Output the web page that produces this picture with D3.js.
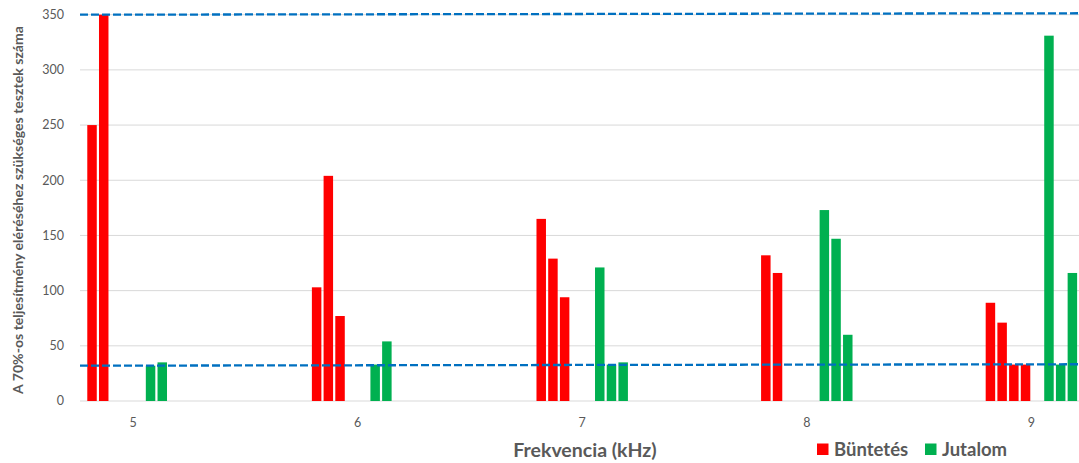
<!DOCTYPE html>
<html>
<head>
<meta charset="utf-8">
<script src="https://d3js.org/d3.v7.min.js"></script>
<style>
  body { margin: 0; background: #fff; }
  text { font-family: Lato, "Open Sans", sans-serif; fill: #595959; }
</style>
</head>
<body>
<svg width="1079" height="463"></svg>
<script>
  // categories (kHz)
  const categories = ['5', '6', '7', '8', '9'];

  // four red series (Büntetés) and four green series (Jutalom); slot 5 stays empty
  const buntetes1 = [250, 103, 165, 132, 89];
  const buntetes2 = [350, 204, 129, 116, 71];
  const buntetes3 = [null, 77, 94, null, 33];
  const buntetes4 = [null, null, null, null, 33];
  const jutalom1 = [null, null, null, null, null];
  const jutalom2 = [32, 33, 121, 173, 331];
  const jutalom3 = [35, 54, 33, 147, 33];
  const jutalom4 = [null, null, 35, 60, 116];

  const yTicks = [0, 50, 100, 150, 200, 250, 300, 350];
  // dashed reference lines: value at left edge, value at right edge
  const upperLine = [350, 351.3];
  const lowerLine = [32, 33.3];

  const legendNames = ['Büntetés', 'Jutalom'];
  const colors = {'Büntetés': '#FF0000', 'Jutalom': '#00B050'};

  const series = [
    {name: 'Büntetés', values: buntetes1},
    {name: 'Büntetés', values: buntetes2},
    {name: 'Büntetés', values: buntetes3},
    {name: 'Büntetés', values: buntetes4},
    {name: 'Jutalom', values: jutalom1},
    {name: 'Jutalom', values: jutalom2},
    {name: 'Jutalom', values: jutalom3},
    {name: 'Jutalom', values: jutalom4}
  ];

  const svg = d3.select('svg');
  const plotLeft = 80, plotRight = 1079, plotTop = 14.7, plotBottom = 401;

  const yScale = d3.scaleLinear()
    .domain([0, 350])
    .range([plotBottom, plotTop]);

  // category axis, the chart is cropped at both sides
  const x0 = d3.scaleBand()
    .domain(categories)
    .range([20.7, 1143.7])
    .paddingInner(0.583)
    .paddingOuter(0.2915);

  const x1 = d3.scaleBand()
    .domain(d3.range(series.length))
    .range([0, x0.bandwidth()])
    .paddingInner(0.19)
    .paddingOuter(0.095);

  svg.append('defs').append('clipPath').attr('id', 'plot')
    .append('rect')
    .attr('x', plotLeft).attr('y', 0)
    .attr('width', plotRight - plotLeft).attr('height', plotBottom + 2);

  // gridlines
  svg.append('g').selectAll('line').data(yTicks)
    .enter().append('line')
    .attr('x1', plotLeft).attr('x2', plotRight)
    .attr('y1', d => yScale(d)).attr('y2', d => yScale(d))
    .attr('stroke', '#D9D9D9')
    .attr('stroke-width', 1);

  // y tick labels
  svg.append('g').selectAll('text').data(yTicks)
    .enter().append('text')
    .attr('x', 64)
    .attr('y', d => yScale(d))
    .attr('dy', '0.35em')
    .attr('text-anchor', 'end')
    .style('font-size', '12.5px')
    .text(d => d);

  // bars
  const bars = [];
  series.forEach((s, i) => {
    s.values.forEach((v, j) => {
      if (v != null) bars.push({cat: categories[j], slot: i, value: v, name: s.name});
    });
  });

  svg.append('g').attr('clip-path', 'url(#plot)')
    .selectAll('rect').data(bars)
    .enter().append('rect')
    .attr('x', d => x0(d.cat) + x1(d.slot))
    .attr('y', d => yScale(d.value))
    .attr('width', x1.bandwidth())
    .attr('height', d => plotBottom - yScale(d.value))
    .attr('fill', d => colors[d.name]);

  // x tick labels
  svg.append('g').selectAll('text').data(categories)
    .enter().append('text')
    .attr('x', d => x0(d) + x0.bandwidth() / 2)
    .attr('y', 423)
    .attr('dy', '0.35em')
    .attr('text-anchor', 'middle')
    .style('font-size', '12.5px')
    .text(d => d);

  // dashed reference lines
  [upperLine, lowerLine].forEach(l => {
    svg.append('line')
      .attr('x1', plotLeft).attr('x2', plotRight)
      .attr('y1', yScale(l[0])).attr('y2', yScale(l[1]))
      .attr('stroke', '#0070C0')
      .attr('stroke-width', 2.3)
      .attr('stroke-dasharray', '8,3');
  });

  // axis titles
  svg.append('text')
    .attr('x', 585).attr('y', 457)
    .attr('text-anchor', 'middle')
    .style('font-size', '19.5px')
    .style('font-weight', 'bold')
    .text('Frekvencia (kHz)');

  svg.append('text')
    .attr('transform', 'translate(23,210) rotate(-90)')
    .attr('text-anchor', 'middle')
    .style('font-size', '14.1px')
    .style('font-weight', 'bold')
    .text('A 70%-os teljesítmény eléréséhez szükséges tesztek száma');

  // legend
  const legend = svg.append('g');
  const legendX = [817, 925];
  legendNames.forEach((n, i) => {
    legend.append('rect')
      .attr('x', legendX[i]).attr('y', 443.5)
      .attr('width', 11.5).attr('height', 11.5)
      .attr('fill', colors[n]);
    legend.append('text')
      .attr('x', legendX[i] + 17).attr('y', 455.5)
      .style('font-size', '18.5px')
      .style('font-weight', 'bold')
      .text(n);
  });
</script>
</body>
</html>
